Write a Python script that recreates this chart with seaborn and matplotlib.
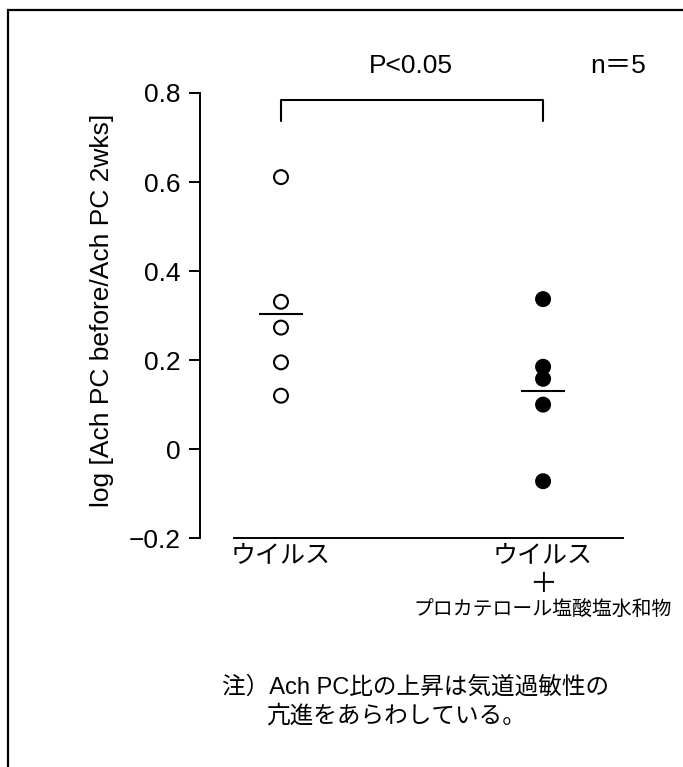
import matplotlib
matplotlib.use("Agg")
import matplotlib.pyplot as plt
import matplotlib.transforms as mtransforms
from matplotlib.patches import Rectangle
import seaborn as sns
import pandas as pd

# ---- data ----
groups = ["ウイルス", "ウイルス＋プロカテロール"]
virus_values = [0.611, 0.331, 0.273, 0.195, 0.120]
procaterol_values = [0.337, 0.185, 0.158, 0.100, -0.072]
group_means = [0.303, 0.131]
yticks = [-0.2, 0, 0.2, 0.4, 0.6, 0.8]
ytick_labels = ["\u22120.2", "0", "0.2", "0.4", "0.6", "0.8"]
ylabel = "log [Ach PC before/Ach PC 2wks]"
p_text = "P<0.05"
n_text = "n＝5"
label_plus = "＋"
label_drug = "プロカテロール塩酸塩水和物"
note_line1 = "注）Ach PC比の上昇は気道過敏性の"
note_line2 = "亢進をあらわしている。"

df = pd.DataFrame({
    "group": [groups[0]] * len(virus_values) + [groups[1]] * len(procaterol_values),
    "value": virus_values + procaterol_values,
})

sns.set_theme(style="white")
FAM = ["Liberation Sans", "Noto Sans CJK JP", "DejaVu Sans"]
JP = ["Noto Sans CJK JP", "Liberation Sans"]
plt.rcParams["font.family"] = FAM
plt.rcParams["text.color"] = "black"
plt.rcParams["axes.labelcolor"] = "black"
plt.rcParams["xtick.color"] = "black"
plt.rcParams["ytick.color"] = "black"

W, H = 683, 767
fig = plt.figure(figsize=(W / 100, H / 100), dpi=100)
fig.patch.set_facecolor("white")

# axes: x pixels 200..650, y pixels 40..560
ax = fig.add_axes([200 / W, 1 - 560 / H, 450 / W, 520 / H])
ax.set_facecolor("white")

sns.stripplot(data=df, x="group", y="value", hue="group", order=groups,
              palette={groups[0]: "white", groups[1]: "black"},
              jitter=False, size=10, linewidth=1.5, edgecolor="black",
              legend=False, ax=ax, zorder=3)

# mean lines
for i, m in enumerate(group_means):
    ax.hlines(m, i - 0.084, i + 0.084, color="black", lw=1.5, zorder=2)

ax.set_xlim(-0.309, 1.408)
ax.set_ylim(-0.249, 0.919)

for s in ["top", "right"]:
    ax.spines[s].set_visible(False)
ax.spines["left"].set_bounds(-0.2, 0.8)
ax.spines["left"].set_linewidth(1.4)
ax.spines["left"].set_color("black")
ax.spines["bottom"].set_position(("data", -0.2))
ax.spines["bottom"].set_bounds(-0.18, 1.305)
ax.spines["bottom"].set_linewidth(1.4)
ax.spines["bottom"].set_color("black")

ax.set_yticks(yticks)
ax.set_yticklabels(ytick_labels, fontsize=19, family=FAM)
ax.tick_params(axis="y", direction="out", length=8, width=1.4, color="black",
               left=True, pad=6, labelcolor="black")
ax.set_xticks([0, 1])
ax.set_xticklabels(["ウイルス", "ウイルス"], fontsize=18, family=JP)
ax.tick_params(axis="x", length=0, pad=3, labelcolor="black")
ax.set_xlabel("")
ax.set_ylabel(ylabel, fontsize=19, family=FAM, color="black")
ax.yaxis.set_label_coords(-0.19, 0.48)

# bracket
bt, bb = 0.784, 0.737
ax.plot([0, 0, 1, 1], [bb, bt, bt, bb], color="black", lw=1.5, clip_on=False)

# top texts (figure pixel positions)
fig.text(411 / W, 1 - 66 / H, p_text, fontsize=19, ha="center", va="center",
         family=FAM, color="black")
fig.text(618 / W, 1 - 66 / H, n_text, fontsize=19, ha="center", va="center",
         family=FAM, color="black")

# second category extra lines
trans = mtransforms.blended_transform_factory(ax.transData, fig.transFigure)
ax.text(1, 1 - 584 / H, label_plus, transform=trans, fontsize=20, ha="center",
        va="center", family=JP, color="black")
ax.text(1, 1 - 610 / H, label_drug, transform=trans, fontsize=14.3, ha="center",
        va="center", family=JP, color="black")

# note
fig.text(222 / W, 1 - 687 / H, note_line1, fontsize=17, ha="left", va="center",
         family=FAM, color="black")
fig.text(266 / W, 1 - 716 / H, note_line2, fontsize=17, ha="left", va="center",
         family=FAM, color="black")

# frame
fig.patches.append(Rectangle((8 / W, -0.1), 1.2, 1 - 10 / H + 0.1,
                             transform=fig.transFigure, fill=False,
                             edgecolor="black", lw=1.6))

fig.savefig("out.png", dpi=100, facecolor="white")
